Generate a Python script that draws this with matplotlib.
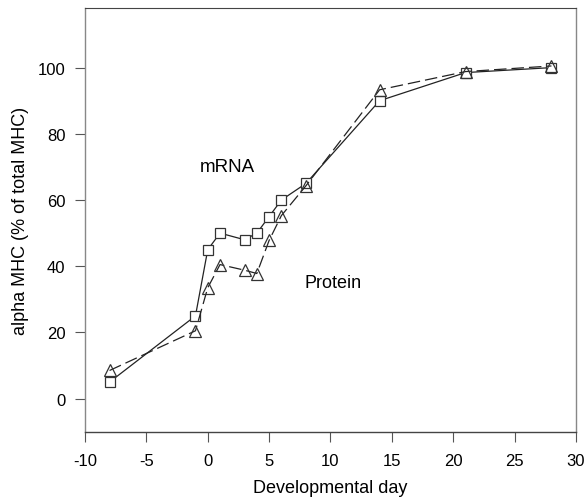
import numpy as np
import matplotlib
matplotlib.use("Agg")
from matplotlib import pyplot as plt

plt.rcParams['font.family'] = ['Liberation Sans', 'DejaVu Sans']
plt.rcParams['axes.unicode_minus'] = False

# developmental day
days = [-8, -1, 0, 1, 3, 4, 5, 6, 8, 14, 21, 28]
# alpha MHC, % of total MHC
mrna = [5, 25, 45, 50, 48, 50, 55, 60, 65, 90, 98.5, 100]
protein = [8.5, 20.5, 33.5, 40.5, 38.8, 37.8, 47.8, 55.3, 64.3, 93.3, 98.8, 100.5]

xticks = [-10, -5, 0, 5, 10, 15, 20, 25, 30]
yticks = [0, 20, 40, 60, 80, 100]

fig = plt.figure(figsize=(5.85, 5.02), dpi=100)
ax = fig.add_axes([0.1453, 0.138, 0.8393, 0.844])

ax.plot(days, mrna, 's-', color='#222222', lw=0.9, ms=7,
        mfc='white', mec='#333333', mew=0.9, zorder=3)
ax.plot(days, protein, '^', ls=(0, (10, 4)), color='#222222', lw=0.9, ms=8.5,
        mfc='none', mec='#333333', mew=0.9, zorder=4)

ax.text(1.6, 70, 'mRNA', fontsize=13.5, ha='center', va='center')
ax.text(10.2, 35, 'Protein', fontsize=13, ha='center', va='center')

ax.set_xlim(-10, 30)
ax.set_ylim(-10, 118)
ax.set_xticks(xticks)
ax.set_yticks(yticks)
ax.tick_params(direction='out', length=7, width=0.8, color='#555555',
               labelsize=12, pad=7)
ax.tick_params(axis='x', pad=8)

for s in ['left', 'right', 'bottom']:
    ax.spines[s].set_color('#888888')
    ax.spines[s].set_linewidth(1.0)
ax.spines['top'].set_color('#444444')
ax.spines['bottom'].set_color('#444444')

ax.set_xlabel('Developmental day', fontsize=13, labelpad=8)
ax.set_ylabel('alpha MHC (% of total MHC)', fontsize=13, labelpad=6)

fig.savefig('out.png', dpi=100)
